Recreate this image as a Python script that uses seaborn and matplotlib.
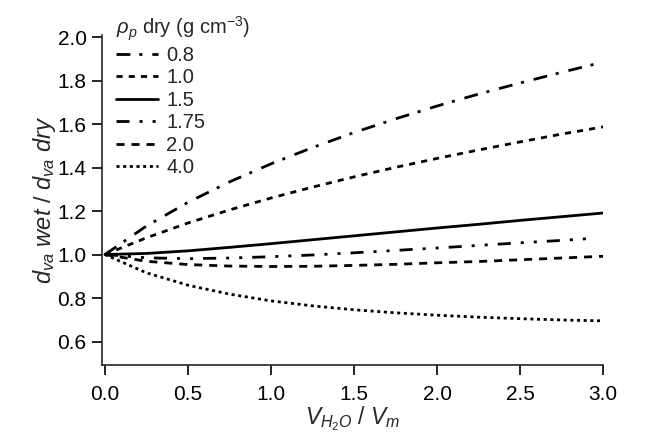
import pandas as pd
import seaborn as sns
import matplotlib
matplotlib.use('Agg')
from matplotlib import pyplot as plt

# values
ratio = [0.0, 0.25, 0.5, 0.75, 1.0, 1.25, 1.5, 1.75, 2.0, 2.25, 2.5, 2.75, 3.0]
ratio_175 = [0.0, 0.25, 0.5, 0.75, 1.0, 1.25, 1.5, 1.75, 2.0, 2.25, 2.5, 2.75, 2.95]
rho_08 = [1.0, 1.131, 1.240, 1.334, 1.417, 1.492, 1.561, 1.624, 1.683, 1.738, 1.789, 1.838, 1.885]
rho_10 = [1.0, 1.077, 1.145, 1.205, 1.260, 1.310, 1.357, 1.401, 1.442, 1.481, 1.518, 1.554, 1.587]
rho_15 = [1.0, 1.005, 1.017, 1.033, 1.050, 1.068, 1.086, 1.104, 1.122, 1.139, 1.157, 1.174, 1.191]
rho_175 = [1.0, 0.985, 0.981, 0.984, 0.990, 0.998, 1.008, 1.019, 1.030, 1.042, 1.054, 1.065, 1.075]
rho_20 = [1.0, 0.969, 0.954, 0.947, 0.945, 0.946, 0.950, 0.955, 0.962, 0.968, 0.976, 0.984, 0.992]
rho_40 = [1.0, 0.916, 0.859, 0.818, 0.787, 0.764, 0.746, 0.732, 0.721, 0.712, 0.705, 0.699, 0.695]
labels = ['0.8', '1.0', '1.5', '1.75', '2.0', '4.0']

series = [(ratio, rho_08), (ratio, rho_10), (ratio, rho_15),
          (ratio_175, rho_175), (ratio, rho_20), (ratio, rho_40)]
frames = []
for lab, (xs, ys) in zip(labels, series):
    frames.append(pd.DataFrame({'x': xs, 'y': ys, 'rho': lab}))
df = pd.concat(frames, ignore_index=True)

sns.set_style('ticks')
plt.rcParams['font.family'] = ['Liberation Sans', 'DejaVu Sans']
plt.rcParams['mathtext.fontset'] = 'custom'
plt.rcParams['mathtext.rm'] = 'Liberation Sans'
plt.rcParams['mathtext.it'] = 'Liberation Sans:italic'

dashes = {
    '0.8': (5, 3.2, 1.1, 3.6),
    '1.0': (2.2, 2.2),
    '1.5': '',
    '1.75': (4.7, 3.6, 1.1, 3.6, 1.1, 3.6),
    '2.0': (2.9, 2.5),
    '4.0': (1.1, 1.3),
}

fig = plt.figure(figsize=(6.45, 4.34), dpi=100)
ax = fig.add_axes([0.158, 0.158, 0.777, 0.761])
sns.lineplot(data=df, x='x', y='y', style='rho', style_order=labels,
             dashes=dashes, color='black', linewidth=2.0, estimator=None,
             sort=False, ax=ax)

ax.set_xlim(-0.018, 3.0)
ax.set_ylim(0.49, 2.009)
ax.set_xticks([0, 0.5, 1.0, 1.5, 2.0, 2.5, 3.0])
ax.set_yticks([0.6, 0.8, 1.0, 1.2, 1.4, 1.6, 1.8, 2.0])
ax.xaxis.set_major_formatter(matplotlib.ticker.FormatStrFormatter('%.1f'))
ax.yaxis.set_major_formatter(matplotlib.ticker.FormatStrFormatter('%.1f'))
sns.despine(ax=ax)
for s in ['left', 'bottom']:
    ax.spines[s].set_linewidth(1.2)
ax.tick_params(direction='out', length=7, width=1.2, labelsize=15, colors='black')
ax.tick_params(axis='x', pad=7)
ax.tick_params(axis='y', pad=4)

ax.set_xlabel(r'$V_{H_2O}\ /\ V_m$', fontsize=16.5, labelpad=0)
ax.set_ylabel(r'$d_{va}\ wet\ /\ d_{va}\ dry$', fontsize=17, labelpad=0)

handles, labs = ax.get_legend_handles_labels()
leg = ax.legend(handles, labs, loc='upper left', bbox_to_anchor=(0.0, 1.106),
                frameon=False, fontsize=14.5, title=r'$\rho_p$ dry (g cm$^{-3}$)',
                title_fontsize=14.5, alignment='left', handlelength=2.1,
                labelspacing=0.17, handletextpad=0.4, borderaxespad=0.3)

fig.savefig('out.png', dpi=100)
